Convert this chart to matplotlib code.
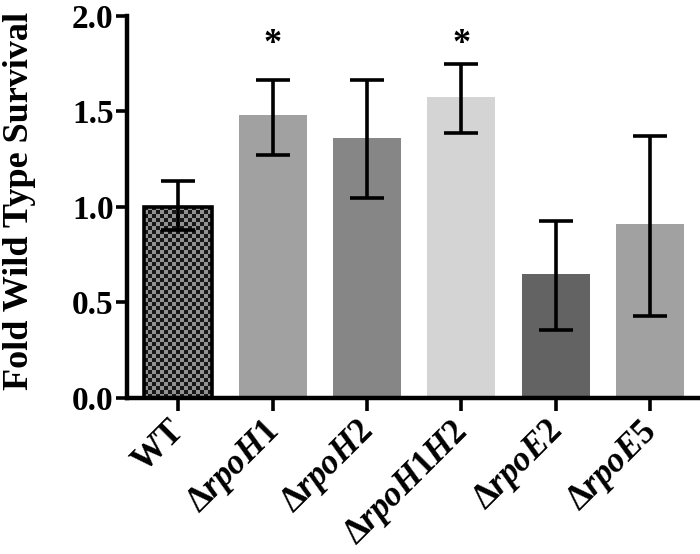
import numpy as np
import matplotlib
matplotlib.use("Agg")
import matplotlib.pyplot as plt
import matplotlib.transforms as mtransforms

plt.rcParams['font.family'] = ['Liberation Serif', 'DejaVu Serif']
plt.rcParams['font.weight'] = 'bold'
plt.rcParams['mathtext.fontset'] = 'custom'
plt.rcParams['mathtext.rm'] = 'Liberation Serif:bold'
plt.rcParams['mathtext.it'] = 'Liberation Serif:bold:italic'
plt.rcParams['mathtext.bf'] = 'Liberation Serif:bold'

# data
strains = ["WT", "rpoH1", "rpoH2", "rpoH1H2", "rpoE2", "rpoE5"]
survival = [1.00, 1.48, 1.36, 1.575, 0.65, 0.91]
err_low = [0.88, 1.27, 1.045, 1.385, 0.355, 0.43]
err_high = [1.135, 1.665, 1.66, 1.745, 0.925, 1.372]
colors = ["#808080", "#a1a1a1", "#868686", "#d4d4d4", "#636363", "#a1a1a1"]
signif = [False, True, False, True, False, False]

labels = [strains[0]] + [r"$\Delta\mathit{%s}$" % s for s in strains[1:]]

fig = plt.figure(figsize=(7.0, 5.54), dpi=100)
ax = fig.add_axes([0.182, 0.282, 0.818, 0.69])

x = np.arange(len(strains))
yerr = [np.array(survival) - np.array(err_low), np.array(err_high) - np.array(survival)]
bars = ax.bar(x, survival, width=0.72, color=colors, edgecolor="none", zorder=2)

# WT bar: checkerboard fill with black outline
wt = bars[0]
wt.set_edgecolor("black")
wt.set_linewidth(2.6)
checker = (np.indices((48, 17)).sum(axis=0) % 2).astype(float)
im = ax.imshow(checker, cmap="gray", vmin=-0.2, vmax=1.9, interpolation="nearest",
               extent=[wt.get_x(), wt.get_x() + wt.get_width(), 0, wt.get_height()],
               aspect="auto", zorder=2.5)
im.set_clip_path(wt)
wt.set_zorder(3)
wt.set_facecolor("none")

ax.errorbar(x, survival, yerr=yerr, fmt="none", ecolor="black", elinewidth=2.6,
            capsize=12, capthick=2.6, zorder=4)

for xi, s in zip(x, signif):
    if s:
        ax.text(xi, 1.85, "*", ha="center", va="center", fontsize=26, fontweight="bold")

ax.set_xlim(-0.54, 5.53)
ax.set_ylim(0, 2.0)
ax.set_yticks([0.0, 0.5, 1.0, 1.5, 2.0])
ax.set_yticklabels(["0.0", "0.5", "1.0", "1.5", "2.0"])
ax.set_xticks(x)
ax.set_xticklabels(labels, rotation=45, ha="right", va="top", rotation_mode="anchor", fontsize=25)
ax.tick_params(axis="y", labelsize=24, width=2.6, length=8, pad=2)
ax.tick_params(axis="x", width=2.6, length=9, pad=3)
ax.set_ylabel("Fold Wild Type Survival", fontsize=26, fontweight="bold")
ax.yaxis.set_label_coords(-0.160, 0.516)

# nudge rotated labels left so their right edge sits at the tick
shift = mtransforms.ScaledTranslation(-0.11, 0, fig.dpi_scale_trans)
for lab in ax.get_xticklabels():
    lab.set_transform(lab.get_transform() + shift)

for side in ["top", "right"]:
    ax.spines[side].set_visible(False)
for side in ["left", "bottom"]:
    ax.spines[side].set_linewidth(3.2)

fig.savefig("out.png", dpi=100)
